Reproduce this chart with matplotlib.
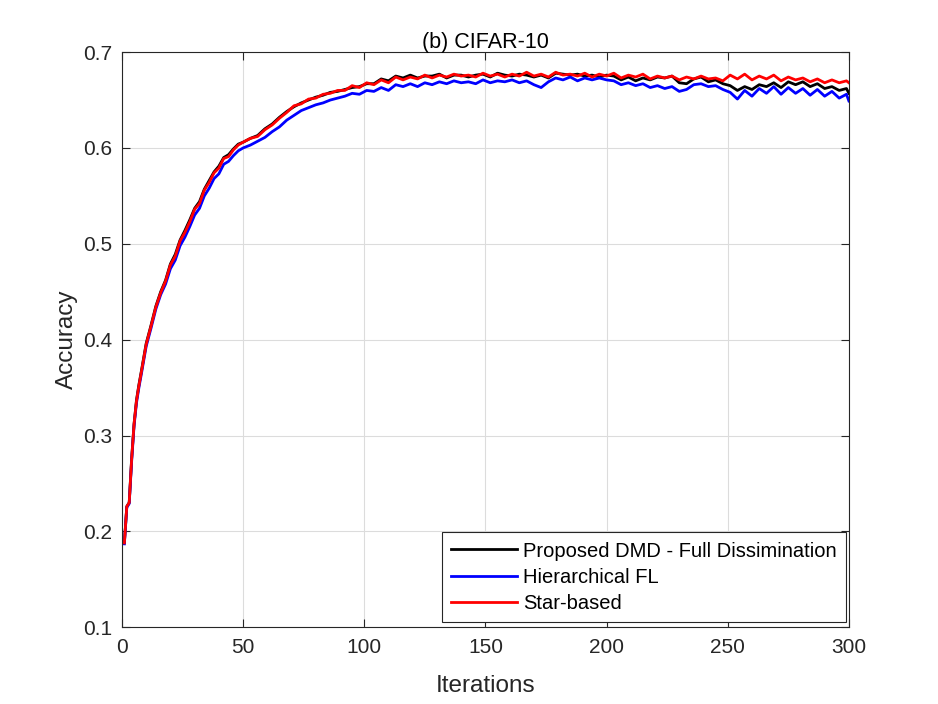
import numpy as np
import matplotlib
matplotlib.use("Agg")
import matplotlib.pyplot as plt

plt.rcParams['font.family'] = ['Liberation Sans', 'DejaVu Sans']

iters = [1, 2, 3, 4, 5, 6, 7, 8, 10, 12, 14, 16, 18, 20, 22, 24, 26, 28, 30,
         32, 34, 36, 38, 40, 42, 44, 46, 48, 50,
         53, 56, 59, 62, 65, 68, 71, 74, 77, 80, 83, 86, 89, 92, 95, 98,
         101, 104, 107, 110, 113, 116, 119, 122, 125, 128, 131, 134, 137, 140,
         143, 146, 149, 152, 155, 158, 161, 164, 167, 170, 173, 176, 179, 182,
         185, 188, 191, 194, 197, 200, 203, 206, 209, 212, 215, 218, 221, 224,
         227, 230, 233, 236, 239, 242, 245, 248, 251, 254, 257, 260, 263, 266,
         269, 272, 275, 278, 281, 284, 287, 290, 293, 296, 299, 300]

dmd_full = [0.188, 0.226, 0.230, 0.276, 0.312, 0.337, 0.353, 0.367, 0.396, 0.415,
            0.435, 0.450, 0.462, 0.479, 0.489, 0.504, 0.514, 0.525, 0.537, 0.544,
            0.557, 0.566, 0.575, 0.581, 0.590, 0.593, 0.599, 0.604, 0.606,
            0.610, 0.613, 0.620, 0.625, 0.632, 0.638, 0.643, 0.647, 0.650, 0.653,
            0.655, 0.658, 0.659, 0.661, 0.663, 0.664, 0.667, 0.667, 0.672, 0.670,
            0.675, 0.673, 0.676, 0.673, 0.675, 0.675, 0.677, 0.673, 0.676, 0.676,
            0.674, 0.676, 0.677, 0.674, 0.678, 0.676, 0.675, 0.677, 0.676, 0.674,
            0.676, 0.673, 0.678, 0.677, 0.676, 0.677, 0.675, 0.676, 0.674, 0.676,
            0.675, 0.671, 0.674, 0.670, 0.673, 0.671, 0.674, 0.673, 0.675, 0.668,
            0.667, 0.672, 0.674, 0.669, 0.671, 0.667, 0.665, 0.660, 0.664, 0.661,
            0.666, 0.664, 0.668, 0.663, 0.669, 0.666, 0.669, 0.664, 0.667, 0.662,
            0.664, 0.660, 0.662, 0.657]

hierarchical = [0.187, 0.225, 0.229, 0.273, 0.310, 0.334, 0.350, 0.364, 0.393, 0.412,
                0.432, 0.447, 0.458, 0.474, 0.483, 0.498, 0.507, 0.518, 0.530, 0.537,
                0.550, 0.558, 0.568, 0.573, 0.583, 0.586, 0.592, 0.597, 0.600,
                0.603, 0.607, 0.611, 0.617, 0.622, 0.629, 0.634, 0.639, 0.642, 0.645,
                0.647, 0.650, 0.652, 0.654, 0.657, 0.656, 0.660, 0.659, 0.663, 0.660,
                0.666, 0.664, 0.667, 0.664, 0.668, 0.666, 0.669, 0.667, 0.670, 0.668,
                0.669, 0.667, 0.671, 0.668, 0.670, 0.669, 0.671, 0.668, 0.670, 0.666,
                0.663, 0.669, 0.673, 0.671, 0.674, 0.670, 0.673, 0.671, 0.673, 0.671,
                0.670, 0.666, 0.668, 0.665, 0.667, 0.663, 0.665, 0.662, 0.664, 0.659,
                0.661, 0.666, 0.667, 0.664, 0.665, 0.661, 0.658, 0.651, 0.660, 0.654,
                0.662, 0.657, 0.664, 0.656, 0.663, 0.657, 0.662, 0.655, 0.661, 0.654,
                0.659, 0.652, 0.656, 0.649]

star_based = [0.188, 0.226, 0.230, 0.275, 0.312, 0.336, 0.352, 0.366, 0.395, 0.414,
              0.434, 0.449, 0.461, 0.478, 0.487, 0.503, 0.512, 0.523, 0.536, 0.542,
              0.556, 0.564, 0.574, 0.579, 0.589, 0.591, 0.598, 0.603, 0.606,
              0.610, 0.612, 0.619, 0.624, 0.631, 0.637, 0.644, 0.646, 0.651, 0.652,
              0.656, 0.657, 0.660, 0.660, 0.665, 0.663, 0.668, 0.666, 0.671, 0.668,
              0.674, 0.671, 0.674, 0.672, 0.676, 0.673, 0.676, 0.674, 0.677, 0.675,
              0.676, 0.674, 0.678, 0.675, 0.677, 0.674, 0.677, 0.675, 0.679, 0.675,
              0.677, 0.674, 0.679, 0.676, 0.677, 0.675, 0.678, 0.674, 0.677, 0.675,
              0.678, 0.673, 0.676, 0.674, 0.677, 0.672, 0.675, 0.673, 0.675, 0.671,
              0.674, 0.672, 0.675, 0.672, 0.673, 0.670, 0.676, 0.672, 0.677, 0.671,
              0.675, 0.672, 0.676, 0.670, 0.674, 0.671, 0.673, 0.669, 0.672, 0.668,
              0.671, 0.668, 0.670, 0.668]

labels = ["Proposed DMD - Full Dissimination", "Hierarchical FL", "Star-based"]
colors = ["black", "blue", "red"]
title = "(b) CIFAR-10"
xticks = [0, 50, 100, 150, 200, 250, 300]
yticks = [0.1, 0.2, 0.3, 0.4, 0.5, 0.6, 0.7]

fig = plt.figure(figsize=(9.38, 7.04), dpi=100)
ax = fig.add_axes([0.130, 0.109, 0.775, 0.817])

for ys, lab, c in zip([dmd_full, hierarchical, star_based], labels, colors):
    ax.plot(iters, ys, color=c, lw=2.0, label=lab)

ax.set_xlim(0, 300)
ax.set_ylim(0.1, 0.7)
ax.set_xticks(xticks)
ax.set_yticks(yticks)
ax.set_xticklabels([str(t) for t in xticks])
ax.set_yticklabels([f"{t:.1f}" for t in yticks])

txtc = '#262626'
ax.grid(True, color='#dcdcdc', lw=0.8)
ax.set_axisbelow(True)
for s in ax.spines.values():
    s.set_color(txtc)
    s.set_linewidth(0.8)
ax.tick_params(direction='in', length=6, width=0.8, colors=txtc,
               labelsize=15, top=True, right=True)
ax.tick_params(axis='x', pad=8)
ax.tick_params(axis='y', pad=7)

ax.set_xlabel("Iterations", fontsize=17.5, color=txtc, labelpad=13)
ax.set_ylabel("Accuracy", fontsize=17.5, color=txtc, labelpad=4)
ax.set_title(title, fontsize=15.5, color='black', pad=3)

leg = ax.legend(loc='lower right', bbox_to_anchor=(0.996, 0.009),
                fontsize=14.5, frameon=True, fancybox=False,
                handlelength=3.3, borderaxespad=0.0, labelspacing=0.36,
                handletextpad=0.3, borderpad=0.45)
leg.get_frame().set_edgecolor(txtc)
leg.get_frame().set_linewidth(0.8)
leg.get_frame().set_alpha(1.0)

fig.savefig("out.png", dpi=100)
